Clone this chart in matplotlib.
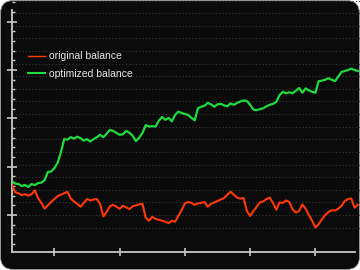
import numpy as np
import matplotlib
matplotlib.use("Agg")
import matplotlib.pyplot as plt
from matplotlib.patches import FancyBboxPatch
from matplotlib.transforms import IdentityTransform
from matplotlib.ticker import MultipleLocator

# ==========================
# Data (balance per step)
# ==========================
start_step = 7

original_balance = [
    10620, 10470, 10450, 10410, 10430, 10400, 10430, 10510, 10350, 10250,
    10130, 10200, 10270, 10330, 10390, 10420, 10450, 10480, 10340, 10280,
    10230, 10170, 10250, 10330, 10300, 10320, 10330, 10230, 9970, 10060,
    10180, 10210, 10170, 10130, 10190, 10160, 10120, 10180, 10200, 10220,
    10230, 9940, 9880, 9960, 9920, 9900, 9880, 9860, 9830, 9880,
    9860, 9980, 10100, 10240, 10270, 10250, 10210, 10240, 10250, 10270,
    10170, 10230, 10260, 10290, 10320, 10350, 10420, 10480, 10420, 10360,
    10340, 10350, 10080, 9980, 10080, 10170, 10260, 10280, 10330, 10360,
    10250, 10110, 10260, 10250, 10300, 10270, 10120, 10050, 10080, 10220,
    10130, 10000, 9880, 9740, 9810, 9910, 10000, 10060, 10100, 10090,
    10130, 10190, 10290, 10330, 10340, 10150, 10210,
]

optimized_balance = [
    10700, 10650, 10640, 10600, 10620, 10580, 10640, 10620, 10660, 10670,
    10720, 10890, 10900, 10970, 11080, 11300, 11570, 11560, 11610, 11580,
    11620, 11590, 11540, 11570, 11520, 11570, 11610, 11660, 11610, 11680,
    11760, 11740, 11700, 11660, 11670, 11740, 11700, 11640, 11530, 11600,
    11700, 11860, 11830, 11840, 11830, 11950, 12030, 11970, 12010, 11940,
    12070, 12140, 12110, 12090, 12070, 12010, 11960, 12210, 12240, 12260,
    12320, 12290, 12240, 12290, 12300, 12270, 12250, 12310, 12280, 12320,
    12350, 12370, 12360, 12280, 12180, 12170, 12190, 12210, 12250, 12280,
    12300, 12340, 12480, 12550, 12520, 12540, 12520, 12570, 12630, 12530,
    12620, 12580, 12550, 12530, 12770, 12780, 12800, 12830, 12800, 12770,
    12860, 12960, 12980, 13000, 13030, 13000, 12980,
]

labels = ["original balance", "optimized balance"]
colors = ["#ff3808", "#1fdc3c"]

steps = np.arange(len(original_balance)) + start_step

# ==========================
# Plot
# ==========================
plt.rcParams['font.family'] = ['Liberation Sans', 'DejaVu Sans']

fig = plt.figure(figsize=(3.6, 2.7), dpi=100)
fig.patch.set_facecolor("white")

# rounded black background
bg = FancyBboxPatch((0.5, 0.5), 359, 269,
                    boxstyle="round,pad=0,rounding_size=13",
                    transform=IdentityTransform(),
                    facecolor="#0b0b0b", edgecolor="#9a9a9a", linewidth=0.6,
                    zorder=-10)
fig.add_artist(bg)

ax = fig.add_axes([11.5 / 360, 18.5 / 270, 1 - 11.5 / 360, 1 - 18.5 / 270])
ax.set_facecolor("none")
ax.set_zorder(5)

# dotted background grid
for g in np.arange(9739, 14500, 261):
    ax.axhline(g, color="#3a3a3a", lw=0.8, ls=(0, (1, 2)), zorder=1)

ax.plot(steps, original_balance, color=colors[0], lw=1.5, label=labels[0], zorder=3)
ax.plot(steps, optimized_balance, color=colors[1], lw=1.6, label=labels[1], zorder=3)

ax.set_xlim(6.85, 113.67)
ax.set_ylim(9244, 14450)

for s in ["top", "right"]:
    ax.spines[s].set_visible(False)
for s in ["left", "bottom"]:
    ax.spines[s].set_color("#c8c8c8")
    ax.spines[s].set_linewidth(1.3)
ax.spines["left"].set_bounds(9244, 14244)
ax.spines["bottom"].set_bounds(6.85, 112.1)

ax.xaxis.set_major_locator(MultipleLocator(20))
ax.yaxis.set_major_locator(MultipleLocator(1000))
ax.yaxis.set_minor_locator(MultipleLocator(200))
ax.tick_params(axis="y", which="major", direction="inout", length=6.5, width=1.2,
               color="#c8c8c8", labelleft=False)
ax.tick_params(axis="y", which="minor", direction="in", length=2.5, width=1.0,
               color="#c8c8c8")
ax.tick_params(axis="x", which="major", direction="inout", length=5.5, width=1.2,
               color="#c8c8c8", labelbottom=False)

leg = ax.legend(loc="upper left", bbox_to_anchor=(0.035, 0.812), frameon=False,
                fontsize=7.5, handlelength=1.65, handletextpad=0.42,
                labelspacing=0.73, borderaxespad=0)
for t in leg.get_texts():
    t.set_color("#e8e8e8")
leg.get_lines()[0].set_linewidth(1.0)
leg.get_lines()[1].set_linewidth(1.5)

fig.savefig("out.png", dpi=100, facecolor=fig.get_facecolor())
